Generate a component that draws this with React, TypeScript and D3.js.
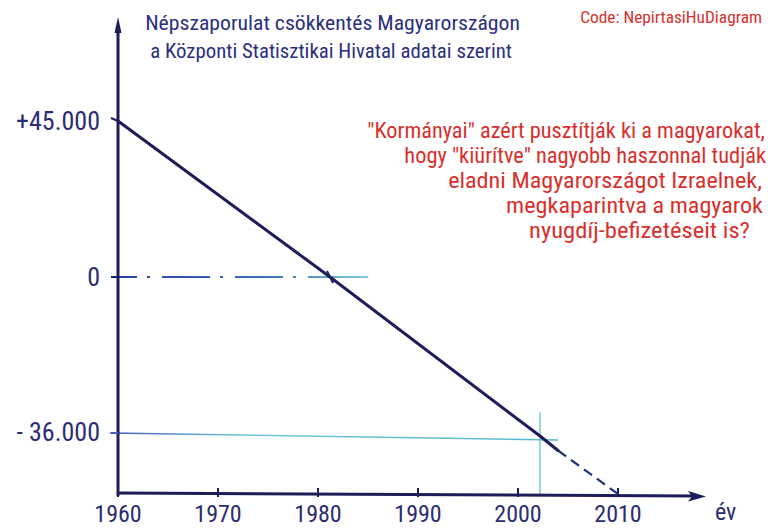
import React, { useLayoutEffect, useRef, useState } from "react";
import * as d3 from "d3";

// ---- data ----
const years = [1960, 1970, 1980, 1990, 2000, 2010];
const yTickValues = [45000, 0, -36000];
const yTickLabels = ["+45.000", "0", "- 36.000"];
const solidYears = [1960, 1981.2, 2002.2, 2004];
const solidValues = [45000, 0, -36000, -39500];
const dashedYears = [2004, 2010];
const dashedValues = [-39500, -50000];
const titleLines = [
  "Népszaporulat csökkentés Magyarországon",
  "a Központi Statisztikai Hivatal adatai szerint",
];
const codeText = "Code: NepirtasiHuDiagram";
const noteLines = [
  "\"Kormányai\" azért pusztítják ki a magyarokat,",
  "hogy \"kiürítve\" nagyobb haszonnal tudják",
  "eladni Magyarországot Izraelnek,",
  "megkaparintva a magyarok",
  "nyugdíj-befizetéseit is?",
];
const xAxisLabel = "év";

// ---- layout ----
const W = 773;
const H = 528;
const NAVY = "#1d1d5a";
const LABEL = "#2c2c72";
const RED = "#d8302c";
const CYAN = "#6cc8d8";
const FONT = "'Liberation Sans Narrow', 'Roboto Condensed', 'Liberation Sans', Arial, sans-serif";

// right edge x, baseline y, target width
const titleLayout = [
  { x: 520, y: 30, w: 375 },
  { x: 512, y: 58, w: 362 },
];
const codeLayout = { x: 762, y: 23, w: 182 };
const noteLayout = [
  { x: 765, y: 138, w: 398 },
  { x: 766, y: 163, w: 362 },
  { x: 762, y: 188, w: 314 },
  { x: 763, y: 213, w: 257 },
  { x: 750, y: 238, w: 221 },
];

function FitText(props: {
  text: string;
  x: number;
  y: number;
  w: number;
  size: number;
  fill: string;
}) {
  const ref = useRef<SVGTextElement>(null);
  const [sx, setSx] = useState(1);
  useLayoutEffect(() => {
    if (ref.current) {
      const len = ref.current.getComputedTextLength();
      if (len > 0) setSx(props.w / len);
    }
  }, [props.text, props.w, props.size]);
  return (
    <g transform={`translate(${props.x},${props.y}) scale(${sx},1)`}>
      <text
        ref={ref}
        x={0}
        y={0}
        textAnchor="end"
        fontFamily={FONT}
        fontSize={props.size}
        fill={props.fill}
      >
        {props.text}
      </text>
    </g>
  );
}

export default function App() {
  const x = d3.scaleLinear().domain([1960, 2010]).range([118, 618]);
  const y = d3
    .scaleLinear()
    .domain([45000, 0, -36000, -50000])
    .range([121, 277, 436, 494]);

  const axisY = y(-50000);
  const axisX = x(1960);

  const line = d3
    .line<[number, number]>()
    .x((d) => x(d[0]))
    .y((d) => y(d[1]));

  const solid = solidYears.map((yr, i) => [yr, solidValues[i]] as [number, number]);
  const dashed = dashedYears.map((yr, i) => [yr, dashedValues[i]] as [number, number]);

  const xEnd = 706;
  const yTop = 17;
  const guideYear = 2002.2;

  return (
    <svg
      width={W}
      height={H}
      style={{ position: "absolute", left: 0, top: 0, background: "#fff" }}
    >
      <defs>
        <linearGradient id="zeroGrad" gradientUnits="userSpaceOnUse" x1={118} x2={368} y1={0} y2={0}>
          <stop offset="0" stopColor="#2a40a8" />
          <stop offset="0.6" stopColor="#3a70b8" />
          <stop offset="1" stopColor="#7ccfe0" />
        </linearGradient>
        <linearGradient id="negGrad" gradientUnits="userSpaceOnUse" x1={110} x2={558} y1={0} y2={0}>
          <stop offset="0" stopColor="#4a5ab8" />
          <stop offset="0.3" stopColor={CYAN} />
          <stop offset="1" stopColor="#5ab8cc" />
        </linearGradient>
      </defs>
      <rect width={W} height={H} fill="#fff" />

      {/* title */}
      {titleLines.map((t, i) => (
        <FitText
          key={i}
          text={t}
          x={titleLayout[i].x}
          y={titleLayout[i].y}
          w={titleLayout[i].w}
          size={21}
          fill="#2b2f7e"
        />
      ))}
      <FitText
        text={codeText}
        x={codeLayout.x}
        y={codeLayout.y}
        w={codeLayout.w}
        size={16}
        fill={RED}
      />
      {noteLines.map((t, i) => (
        <FitText
          key={i}
          text={t}
          x={noteLayout[i].x}
          y={noteLayout[i].y}
          w={noteLayout[i].w}
          size={22}
          fill={RED}
        />
      ))}

      {/* zero guide (dash-dot) */}
      <line
        x1={axisX}
        x2={368}
        y1={y(0)}
        y2={y(0)}
        stroke="url(#zeroGrad)"
        strokeWidth={2}
        strokeDasharray="19 10 3 12 48 10 3 12 48 10 3 12 60"
      />
      {/* -36000 guide */}
      <line
        x1={110}
        x2={558}
        y1={y(-36000) - 3}
        y2={y(-36000) + 4}
        stroke="url(#negGrad)"
        strokeWidth={1.6}
      />
      {/* vertical guide */}
      <line
        x1={x(guideYear)}
        x2={x(guideYear)}
        y1={y(-36000) - 24}
        y2={axisY}
        stroke={CYAN}
        strokeWidth={1.4}
      />

      {/* axes */}
      <line x1={axisX} x2={axisX} y1={axisY + 2} y2={yTop + 12} stroke={NAVY} strokeWidth={3} />
      <path
        d={`M${axisX},${yTop} L${axisX - 3.5},${yTop + 16} L${axisX + 3.5},${yTop + 16} Z`}
        fill={NAVY}
      />
      <line x1={axisX} x2={xEnd - 10} y1={axisY - 1} y2={axisY + 2} stroke={NAVY} strokeWidth={3} />
      <path
        d={`M${xEnd},${axisY + 2.5} L${xEnd - 18},${axisY - 3} L${xEnd - 14},${axisY + 2.5} L${xEnd - 18},${axisY + 7.5} Z`}
        fill={NAVY}
      />
      {years.map((yr) => (
        <line
          key={yr}
          x1={x(yr)}
          x2={x(yr)}
          y1={axisY - 6}
          y2={axisY + 3}
          stroke={NAVY}
          strokeWidth={2}
        />
      ))}
      {/* y tick stubs */}
      {yTickValues.map((v) => (
        <line
          key={v}
          x1={axisX - 7}
          x2={axisX}
          y1={y(v) + (v === 45000 ? -3 : v === -36000 ? -3 : 0)}
          y2={y(v) + (v === -36000 ? -3 : 0)}
          stroke={v === -36000 ? "#4a5ab8" : NAVY}
          strokeWidth={2}
        />
      ))}

      {/* data line */}
      <path d={line(solid) || ""} fill="none" stroke={NAVY} strokeWidth={3} strokeLinecap="round" />
      <path
        d={line(dashed) || ""}
        fill="none"
        stroke="#23307a"
        strokeWidth={2.2}
        strokeDasharray="10 6"
      />
      {/* small cross mark at zero crossing */}
      <line
        x1={x(1981.2) - 3}
        x2={x(1981.2) + 3}
        y1={y(0) - 6}
        y2={y(0) + 6}
        stroke={NAVY}
        strokeWidth={2}
      />

      {/* y labels */}
      {yTickValues.map((v, i) => (
        <text
          key={v}
          x={100}
          y={y(v) - (v === -36000 ? 4 : 0)}
          textAnchor="end"
          dominantBaseline="central"
          fontFamily={FONT}
          fontSize={26}
          fill={LABEL}
        >
          {yTickLabels[i]}
        </text>
      ))}

      {/* x labels */}
      {years.map((yr) => (
        <text
          key={yr}
          x={x(yr)}
          y={522}
          textAnchor="middle"
          fontFamily={FONT}
          fontSize={24}
          fill={LABEL}
        >
          {yr}
        </text>
      ))}
      <text x={715} y={520} fontFamily={FONT} fontSize={24} fill={LABEL}>
        {xAxisLabel}
      </text>
    </svg>
  );
}
